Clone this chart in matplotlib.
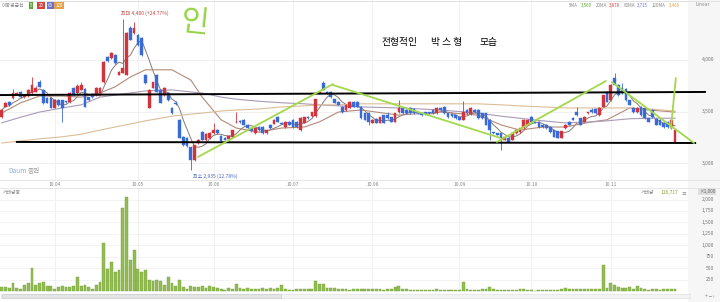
import numpy as np
import pandas as pd
import matplotlib
matplotlib.use("Agg")
import matplotlib.pyplot as plt
from matplotlib.patches import Rectangle
from matplotlib.transforms import blended_transform_factory as blend

plt.rcParams['font.family'] = ['Noto Sans CJK KR', 'DejaVu Sans']

# ---- data (one candle per bar) ----
opens = [3445, 3545, 3595, 3630, 3670, 3690, 3640, 3650, 3680, 3690,
         3785, 3710, 3630, 3630, 3535, 3610, 3610, 3595, 3595, 3730,
         3680, 3710, 3720, 3640, 3670, 3660, 3680, 3785, 4030, 4020,
         4050, 3855, 3875, 3855, 4310, 4260, 4245, 4215, 3855, 3535,
         3730, 3855, 3710, 3660, 3680, 3535, 3580, 3420, 3255, 3245,
         3155, 3030, 3195, 3300, 3225, 3245, 3290, 3320, 3265, 3245,
         3235, 3255, 3395, 3405, 3420, 3370, 3340, 3290, 3350, 3350,
         3290, 3370, 3380, 3445, 3390, 3350, 3400, 3420, 3400, 3320,
         3390, 3445, 3455, 3455, 3680, 3775, 3690, 3690, 3620, 3595,
         3545, 3515, 3535, 3595, 3595, 3545, 3485, 3485, 3390, 3430,
         3390, 3465, 3465, 3445, 3400, 3495, 3535, 3515, 3535, 3525,
         3495, 3485, 3495, 3495, 3515, 3485, 3535, 3545, 3485, 3475,
         3465, 3445, 3420, 3515, 3475, 3515, 3515, 3485, 3485, 3420,
         3300, 3290, 3290, 3225, 3245, 3225, 3290, 3300, 3340, 3370,
         3445, 3400, 3400, 3370, 3370, 3350, 3320, 3310, 3245, 3340,
         3400, 3435, 3495, 3435, 3400, 3485, 3515, 3525, 3465, 3545,
         3690, 3610, 3825, 3760, 3730, 3720, 3610, 3535, 3495, 3545,
         3535, 3435, 3515, 3430, 3420, 3390, 3400, 3340, 3205]
highs = [3525, 3595, 3605, 3720, 3690, 3700, 3675, 3715, 3835, 3745,
         3805, 3715, 3640, 3640, 3620, 3620, 3615, 3605, 3690, 3740,
         3770, 3790, 3725, 3645, 3680, 3740, 3740, 3990, 4040, 4080,
         4055, 3890, 4400, 4270, 4330, 4370, 4250, 4220, 3860, 3720,
         3790, 3860, 3715, 3735, 3690, 3540, 3600, 3425, 3265, 3250,
         3160, 3180, 3235, 3310, 3290, 3300, 3390, 3330, 3275, 3255,
         3270, 3325, 3500, 3420, 3430, 3375, 3345, 3345, 3360, 3355,
         3325, 3380, 3425, 3460, 3395, 3405, 3405, 3425, 3405, 3445,
         3450, 3455, 3500, 3625, 3700, 3795, 3700, 3695, 3625, 3600,
         3550, 3570, 3600, 3600, 3600, 3550, 3490, 3495, 3425, 3435,
         3450, 3470, 3495, 3450, 3490, 3610, 3540, 3520, 3540, 3530,
         3500, 3490, 3500, 3500, 3520, 3540, 3540, 3550, 3490, 3480,
         3470, 3450, 3600, 3520, 3540, 3520, 3520, 3490, 3490, 3425,
         3305, 3295, 3295, 3260, 3250, 3295, 3325, 3345, 3425, 3425,
         3460, 3410, 3405, 3375, 3375, 3355, 3325, 3315, 3315, 3375,
         3405, 3445, 3545, 3440, 3455, 3500, 3530, 3535, 3540, 3665,
         3700, 3765, 3875, 3765, 3775, 3725, 3615, 3540, 3540, 3550,
         3540, 3440, 3520, 3435, 3425, 3395, 3405, 3425, 3325]
lows = [3435, 3540, 3555, 3620, 3660, 3635, 3630, 3640, 3670, 3685,
        3735, 3575, 3580, 3530, 3530, 3555, 3400, 3580, 3585, 3655,
        3675, 3705, 3540, 3605, 3635, 3655, 3675, 3780, 3985, 4010,
        3965, 3850, 3870, 3850, 4190, 4255, 4140, 4040, 3770, 3530,
        3725, 3685, 3580, 3655, 3605, 3480, 3565, 3240, 3170, 3160,
        2935, 3020, 3185, 3220, 3215, 3235, 3285, 3285, 3210, 3220,
        3230, 3250, 3385, 3385, 3365, 3335, 3300, 3285, 3315, 3285,
        3280, 3335, 3375, 3395, 3375, 3345, 3365, 3345, 3345, 3310,
        3385, 3430, 3450, 3450, 3675, 3705, 3675, 3635, 3580, 3560,
        3490, 3510, 3530, 3540, 3540, 3430, 3415, 3370, 3385, 3385,
        3385, 3385, 3430, 3395, 3395, 3490, 3480, 3480, 3480, 3480,
        3480, 3460, 3470, 3480, 3480, 3480, 3510, 3480, 3440, 3450,
        3430, 3415, 3415, 3480, 3470, 3490, 3430, 3430, 3365, 3225,
        3285, 3270, 3125, 3220, 3200, 3220, 3285, 3295, 3335, 3365,
        3395, 3385, 3345, 3345, 3335, 3295, 3250, 3240, 3240, 3335,
        3365, 3415, 3460, 3365, 3395, 3475, 3490, 3480, 3460, 3540,
        3590, 3605, 3755, 3655, 3675, 3605, 3560, 3490, 3490, 3460,
        3430, 3395, 3440, 3365, 3365, 3345, 3345, 3335, 3200]
closes = [3515, 3585, 3565, 3680, 3675, 3640, 3665, 3705, 3760, 3730,
          3740, 3585, 3585, 3535, 3610, 3565, 3535, 3590, 3680, 3660,
          3750, 3760, 3545, 3610, 3640, 3730, 3730, 3980, 3990, 4070,
          3970, 3885, 3920, 4260, 4195, 4310, 4145, 4050, 3775, 3710,
          3785, 3690, 3585, 3730, 3610, 3485, 3575, 3245, 3175, 3165,
          3030, 3175, 3225, 3225, 3280, 3290, 3320, 3290, 3215, 3225,
          3265, 3320, 3400, 3395, 3370, 3340, 3310, 3340, 3320, 3290,
          3320, 3340, 3420, 3400, 3380, 3400, 3370, 3350, 3350, 3435,
          3445, 3435, 3495, 3620, 3690, 3710, 3680, 3640, 3585, 3565,
          3495, 3565, 3595, 3545, 3545, 3435, 3420, 3400, 3420, 3390,
          3445, 3390, 3435, 3400, 3485, 3535, 3485, 3485, 3485, 3485,
          3485, 3465, 3475, 3485, 3485, 3535, 3515, 3485, 3445, 3455,
          3435, 3420, 3495, 3485, 3535, 3495, 3435, 3435, 3370, 3320,
          3290, 3275, 3245, 3255, 3205, 3290, 3320, 3340, 3420, 3420,
          3400, 3390, 3350, 3350, 3340, 3300, 3255, 3245, 3310, 3370,
          3370, 3420, 3465, 3370, 3445, 3490, 3495, 3485, 3535, 3660,
          3595, 3760, 3760, 3660, 3680, 3610, 3565, 3495, 3535, 3465,
          3435, 3400, 3445, 3370, 3370, 3350, 3350, 3420, 3320]
# volume in thousands of shares
volumes = [88, 88, 73, 183, 73, 44, 139, 183, 511, 139,
           175, 197, 102, 110, 51, 88, 102, 88, 88, 102,
           307, 102, 124, 88, 44, 139, 197, 1059, 475, 628,
           416, 453, 1825, 2059, 672, 891, 475, 416, 453, 248,
           212, 234, 226, 139, 307, 183, 110, 234, 88, 51,
           102, 88, 88, 102, 66, 102, 88, 66, 51, 29,
           73, 37, 146, 66, 51, 66, 37, 51, 51, 73,
           37, 73, 37, 73, 139, 37, 29, 29, 51, 51,
           51, 51, 51, 212, 146, 146, 66, 73, 73, 51,
           37, 37, 29, 51, 51, 37, 37, 44, 44, 37,
           37, 29, 37, 51, 88, 117, 37, 37, 15, 15,
           22, 29, 22, 29, 29, 37, 29, 15, 29, 22,
           29, 29, 190, 37, 29, 29, 29, 37, 44, 88,
           37, 29, 29, 15, 15, 29, 29, 37, 51, 29,
           15, 7, 15, 15, 15, 15, 22, 29, 44, 58,
           37, 37, 51, 37, 44, 37, 51, 37, 51, 562,
           73, 183, 124, 88, 73, 73, 88, 51, 102, 73,
           37, 15, 37, 44, 29, 44, 51, 51, 51]

# moving average lines (read at a few bars)
ma_bars = [0, 5, 10, 16, 21, 26, 30, 34, 38, 45, 50, 53, 58, 62, 68, 74,
           80, 84, 89, 95, 105, 116, 126, 132, 137, 143, 149, 156, 160, 166, 171, 178]
ma20 = [3485, 3585, 3650, 3650, 3640, 3680, 3740, 3835, 3905, 3905, 3805, 3640,
        3420, 3340, 3300, 3340, 3350, 3400, 3495, 3515, 3465, 3495, 3465, 3370,
        3320, 3350, 3350, 3400, 3420, 3535, 3515, 3495]
ma60 = [3390, 3445, 3495, 3535, 3565, 3640, 3660, 3680, 3700, 3710, 3690, 3680,
        3640, 3620, 3600, 3585, 3575, 3565, 3555, 3545, 3535, 3515, 3485, 3455,
        3435, 3410, 3390, 3400, 3410, 3430, 3435, 3435]
ma120 = [3195, 3215, 3235, 3255, 3280, 3320, 3350, 3380, 3410, 3455, 3475, 3485,
         3505, 3515, 3525, 3545, 3555, 3565, 3565, 3575, 3575, 3575, 3575, 3565,
         3555, 3545, 3535, 3535, 3535, 3535, 3525, 3505]

day_ticks = [14, 36, 56, 77, 98, 121, 140, 161]
day_labels = ['10.04', '10.05', '10.06', '10.07', '10.08', '10.09', '10.10', '10.11']
price_ticks = [4000, 3500, 3000]
vol_ticks = [2000, 1750, 1500, 1250, 1000, 750, 500, 250]
ma_names = ['5MA', '20MA', '60MA', '120MA']
ma_last = ['3,569', '3,878', '3,715', '3,466']

# hand drawn marks (bar, price)
box_top = ([-0.45, 185.9], [3660, 3690])
box_bottom = ([4.0, 183.3], [3205, 3195])
green_strokes = [([51.9, 87.6], [3060, 3767]),
                 ([87.6, 131.7], [3757, 3245]),
                 ([130.9, 159.7], [3205, 3796]),
                 ([161.3, 183.0], [3785, 3195]),
                 ([178.2, 176.9], [3825, 3340])]

# ---- layout ----
W, H = 720, 302
STEP, X0 = 3.783, 1.7


def fx(px):
    return px / W


def fy(py):
    return 1 - py / H


def bar_at(px):
    return (px - X0) / STEP


RED, BLUE = '#d2343c', '#3a6ad6'
GRID = '#eeeeee'
TXT = '#8a8a8a'
MA_COLS = ['#5ba532', '#d0453f', '#6a6fd0', '#e3a24a']

fig = plt.figure(figsize=(7.2, 3.02), dpi=100)
fig.patches.append(Rectangle((fx(688), 0), 1 - fx(688), 1, transform=fig.transFigure,
                             facecolor='#f6f6f6', edgecolor='none', zorder=-5))

ax = fig.add_axes([0, fy(180), fx(688), 180 / H])
axv = fig.add_axes([0, fy(292), fx(688), 104 / H])
for a in (ax, axv):
    a.set_xlim(bar_at(0), bar_at(688))
    for s in a.spines.values():
        s.set_visible(False)
    a.set_xticks([])
    a.set_yticks([])
    for t in day_ticks:
        a.axvline(t, color=GRID, lw=0.6, zorder=0)
ax.set_ylim(2836, 4582)
axv.set_ylim(-22, 2253)
for p in price_ticks:
    ax.axhline(p, color=GRID, lw=0.6, zorder=0)
for v in vol_ticks:
    axv.axhline(v, color='#f1f1f1', lw=0.6, zorder=0)

# candles
o = np.array(opens)
h = np.array(highs)
l = np.array(lows)
c = np.array(closes)
idx = np.arange(len(c))
cols = np.where(c >= o, RED, BLUE)
ax.vlines(idx, l, h, colors=cols, lw=0.6, zorder=3)
ax.bar(idx, np.maximum(np.abs(c - o), 8), bottom=np.minimum(o, c), width=0.72,
       color=cols, edgecolor=cols, lw=0.3, zorder=4)

# moving averages
ma5 = pd.Series(closes).rolling(5, min_periods=1).mean()
ax.plot(idx, ma5, color='#857a76', lw=0.7, zorder=2)
ax.plot(ma_bars, ma20, color='#b38a78', lw=0.8, zorder=2)
ax.plot(ma_bars, ma60, color='#a99bb9', lw=0.8, zorder=2)
ax.plot(ma_bars, ma120, color='#dcbd98', lw=0.8, zorder=2)

# box lines and green strokes
ax.plot(*box_top, color='black', lw=1.4, clip_on=False, zorder=6)
ax.plot(*box_bottom, color='black', lw=1.4, clip_on=False, zorder=6)
for xs, ys in green_strokes:
    ax.plot(xs, ys, color='#a3d84c', lw=1.3, clip_on=False, zorder=7,
            solid_capstyle='round')

# volume
axv.bar(idx, volumes, width=0.75, color='#93bd52', edgecolor='#74a03a', lw=0.3, zorder=3)

# separators
for py, colr in [(0.5, '#dcdcdc'), (180, '#e2e2e2'), (188, '#e2e2e2')]:
    fig.add_artist(plt.Line2D([0, 1], [fy(py), fy(py)], color=colr, lw=0.6,
                              transform=fig.transFigure))

# axis labels
tr_p = blend(fig.transFigure, ax.transData)
for p in price_ticks:
    ax.text(fx(714), p, f'{p:,}', transform=tr_p, ha='right', va='center',
            fontsize=3.6, color='#777777')
tr_v = blend(fig.transFigure, axv.transData)
for v in vol_ticks:
    axv.text(fx(714), v, f'{v:,}', transform=tr_v, ha='right', va='center',
             fontsize=3.6, color='#777777')
fig.text(fx(707), fy(191.5), '×1,000', ha='center', va='center', fontsize=3.4,
         color='#666666', bbox=dict(boxstyle='square,pad=0.2', fc='#dedede', ec='none'))
tr_d = blend(ax.transData, fig.transFigure)
for t, lab in zip(day_ticks, day_labels):
    ax.text(t, fy(184), lab, transform=tr_d, ha='center', va='center',
            fontsize=3.6, color=TXT)

# headers
fig.text(fx(2), fy(5.5), '이동평균선', fontsize=3.5, color=TXT, va='center')
for xp, lab, colr in zip([31, 41, 50.5, 59], ['5', '20', '60', '120'], MA_COLS):
    fig.text(fx(xp), fy(5.5), lab, fontsize=3.2, color='white', ha='center', va='center',
             bbox=dict(boxstyle='square,pad=0.25', fc=colr, ec='none'))
name_x = [569, 596, 624, 652]
val_x = [581, 609, 637, 669]
for nx, vx, name, val, colr in zip(name_x, val_x, ma_names, ma_last, MA_COLS):
    fig.text(fx(nx), fy(5.5), name, fontsize=3.2, color=TXT, va='center')
    fig.text(fx(vx), fy(5.5), val, fontsize=3.2, color=colr, va='center')
fig.text(fx(703), fy(4.5), 'Linear', fontsize=3.5, color=TXT, ha='center', va='center')

fig.text(fx(121), fy(13), '최대 4,400 (+24.77%)', fontsize=3.6, color='#c2453f', va='center')
fig.text(fx(193), fy(176.5), '최소 2,935 (12.78%)', fontsize=3.6, color='#4a66bb', va='center')

for xp, word in [(382, '전형적인'), (431, '박 스 형'), (480, '모습')]:
    fig.text(fx(xp), fy(42), word, fontsize=7, color='black', va='center')
fig.text(fx(195), fy(23), '인', fontsize=22, color='#95d448', ha='center', va='center',
         rotation=-6, fontweight='light')

fig.text(fx(8), fy(171), 'Daum', fontsize=4.8, color='#8eaee0', va='center')
fig.text(fx(28), fy(171), '증권', fontsize=4.8, color='#9a9a9a', va='center')

fig.text(fx(3), fy(192.5), '거래량봉', fontsize=3.5, color=TXT, va='center')
fig.text(fx(641), fy(192.5), '거래량', fontsize=3.5, color=TXT, va='center')
fig.text(fx(661), fy(192.5), '116,717', fontsize=3.5, color='#8a9a36', va='center')
fig.text(fx(681), fy(192.5), '≡', fontsize=3.5, color=TXT, va='center')

# scrollbar
fig.patches.append(Rectangle((fx(1), fy(298)), fx(689), 4.5 / H, transform=fig.transFigure,
                             facecolor='#f3f3f3', edgecolor='#dddddd', lw=0.4))
fig.patches.append(Rectangle((fx(2), fy(297.5)), fx(279), 3.5 / H, transform=fig.transFigure,
                             facecolor='#e4e4e4', edgecolor='#c8c8c8', lw=0.4))
fig.text(fx(710), fy(296), '+ − ›', fontsize=3.6, color='#777777', ha='center', va='center')

fig.savefig('out.png', dpi=100)
